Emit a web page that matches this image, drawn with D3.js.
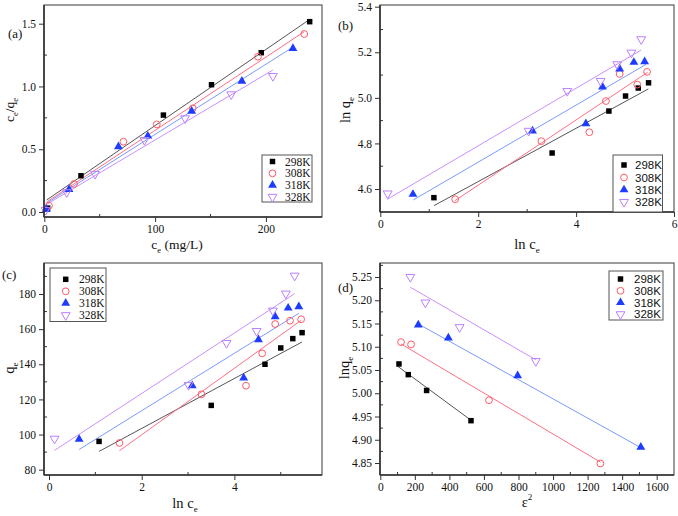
<!DOCTYPE html>
<html><head><meta charset="utf-8">
<script src="https://cdn.jsdelivr.net/npm/d3@7"></script>
<style>
html,body{margin:0;padding:0;background:#fff;}
svg{display:block;}
</style></head>
<body>
<svg id="c" width="678" height="516"></svg>
<script>
// ---------- data ----------
const seriesNames = ["298K", "308K", "318K", "328K"];

// (a) c_e/q_e vs c_e
const aX298 = [3.0, 33.1, 107.5, 150.9, 195.8, 239.5];
const aY298 = [0.031, 0.289, 0.772, 1.014, 1.269, 1.516];
const aX308 = [4.2, 26.8, 71.4, 101.5, 134, 192.8, 234.6];
const aY308 = [0.05, 0.223, 0.56, 0.698, 0.826, 1.237, 1.418];
const aX318 = [1.8, 22.3, 66.9, 93.4, 133, 178.3, 224.4];
const aY318 = [0.021, 0.18, 0.52, 0.605, 0.804, 1.043, 1.303];
const aX328 = [1.2, 20.2, 45.8, 90.4, 127, 168.7, 206.3];
const aY328 = [0.016, 0.157, 0.303, 0.573, 0.746, 0.937, 1.083];
const aFit = [[2.2, 0.096, 240, 1.537], [2.5, 0.082, 234.6, 1.436], [1.8, 0.069, 225, 1.317], [1.2, 0.056, 206.3, 1.131]];

// (b) ln q_e vs ln c_e
const bX298 = [1.095, 3.51, 4.67, 5.01, 5.27, 5.48];
const bY298 = [4.562, 4.758, 4.942, 5.008, 5.043, 5.066];
const bX308 = [1.53, 3.29, 4.27, 4.61, 4.89, 5.25, 5.45];
const bY308 = [4.555, 4.81, 4.849, 4.986, 5.105, 5.058, 5.114];
const bX318 = [0.667, 3.11, 4.20, 4.54, 4.89, 5.18, 5.40];
const bY318 = [4.577, 4.855, 4.887, 5.048, 5.127, 5.156, 5.159];
const bX328 = [0.15, 3.03, 3.82, 4.50, 4.84, 5.13, 5.33];
const bY328 = [4.58, 4.855, 5.03, 5.074, 5.147, 5.198, 5.257];
const bFit = [[1.097, 4.527, 5.475, 5.039], [1.526, 4.549, 5.46, 5.112], [0.674, 4.552, 5.43, 5.147], [0.143, 4.555, 5.33, 5.21]];

// (c) q_e vs ln c_e
const cX298 = [1.08, 3.5, 4.66, 5.0, 5.26, 5.46];
const cY298 = [96.1, 116.6, 140, 149.3, 154.6, 158];
const cX308 = [1.52, 3.29, 4.25, 4.6, 4.88, 5.2, 5.44];
const cY308 = [95.2, 122.9, 127.8, 146.2, 162.9, 164.8, 165.6];
const cX318 = [0.65, 3.09, 4.2, 4.52, 4.88, 5.16, 5.39];
const cY318 = [97.3, 127.8, 132.2, 154, 167.1, 172, 172.8];
const cX328 = [0.12, 3.01, 3.83, 4.48, 4.83, 5.11, 5.3];
const cY328 = [97.6, 128.2, 152.1, 158.9, 170.5, 180.2, 190.4];
const cFit = [[1.08, 90.4, 5.46, 152.7], [1.52, 90.8, 5.44, 165], [0.65, 91.5, 5.39, 169], [0.12, 91, 5.3, 180.2]];

// (d) ln q_e vs epsilon^2
const dX298 = [108, 162, 268, 525];
const dY298 = [5.063, 5.04, 5.006, 4.941];
const dX308 = [120, 178, 629, 1274];
const dY308 = [5.11, 5.105, 4.985, 4.849];
const dX318 = [220, 394, 795, 1508];
const dY318 = [5.147, 5.119, 5.038, 4.884];
const dX328 = [174, 261, 459, 900];
const dY328 = [5.25, 5.195, 5.142, 5.069];
const dFit = [[97, 5.059, 525, 4.942], [120, 5.106, 1274, 4.852], [220, 5.149, 1508, 4.883], [174, 5.228, 900, 5.072]];

// tick values
const aXTicks = [0, 100, 200], aXMinor = [50, 150];
const aYTicks = [0, 0.5, 1.0, 1.5], aYMinor = [0.25, 0.75, 1.25];
const bXTicks = [0, 2, 4, 6], bXMinor = [1, 3, 5];
const bYTicks = [4.6, 4.8, 5.0, 5.2, 5.4], bYMinor = [4.7, 4.9, 5.1, 5.3];
const cXTicks = [0, 2, 4], cXMinor = [1, 3, 5];
const cYTicks = [80, 100, 120, 140, 160, 180], cYMinor = [90, 110, 130, 150, 170, 190];
const dXTicks = [0, 200, 400, 600, 800, 1000, 1200, 1400, 1600], dXMinor = [100, 300, 500, 700, 900, 1100, 1300, 1500];
const dYTicks = [4.85, 4.90, 4.95, 5.00, 5.05, 5.10, 5.15, 5.20, 5.25], dYMinor = [4.875, 4.925, 4.975, 5.025, 5.075, 5.125, 5.175, 5.225, 5.275];

// ---------- styles ----------
const markColor = ["#000000", "#ff5a64", "#1e3cff", "#bb80ff"];
const lineColor = ["#555555", "#ff6e84", "#7a9aff", "#c890ff"];
const serif = "'Liberation Serif','Times New Roman',serif";
const sans = "'Liberation Sans',Arial,sans-serif";

const svg = d3.select("#c");

function marker(g, i, x, y) {
  if (i === 0) {
    g.append("path").attr("d", d3.symbol(d3.symbolSquare, 30)())
      .attr("transform", `translate(${x},${y})`).attr("fill", markColor[0]);
  } else if (i === 1) {
    g.append("circle").attr("cx", x).attr("cy", y).attr("r", 3.4)
      .attr("fill", "none").attr("stroke", markColor[1]).attr("stroke-width", 1);
  } else if (i === 2) {
    g.append("path").attr("d", d3.symbol(d3.symbolTriangle, 34)())
      .attr("transform", `translate(${x},${y})`).attr("fill", markColor[2]);
  } else {
    g.append("path").attr("d", d3.symbol(d3.symbolTriangle, 34)())
      .attr("transform", `translate(${x},${y}) rotate(180)`)
      .attr("fill", "none").attr("stroke", markColor[3]).attr("stroke-width", 1);
  }
}

function panel(p) {
  const g = svg.append("g");
  const x = p.x, y = p.y, f = p.frame;
  // fit lines
  p.fits.forEach((d, i) => {
    g.append("line").attr("x1", x(d[0])).attr("y1", y(d[1])).attr("x2", x(d[2])).attr("y2", y(d[3]))
      .attr("stroke", lineColor[i]).attr("stroke-width", 1);
  });
  // points
  p.xs.forEach((xs, i) => {
    xs.forEach((v, k) => marker(g, i, x(v), y(p.ys[i][k])));
  });
  // frame
  g.append("rect").attr("x", f.l).attr("y", f.t).attr("width", f.r - f.l).attr("height", f.b - f.t)
    .attr("fill", "none").attr("stroke", "#3a3a3a").attr("stroke-width", 1);
  g.append("line").attr("x1", f.l).attr("x2", f.l).attr("y1", f.t).attr("y2", f.b).attr("stroke", "#333").attr("stroke-width", 1.6);
  g.append("line").attr("x1", f.l).attr("x2", f.r).attr("y1", f.b).attr("y2", f.b).attr("stroke", "#333").attr("stroke-width", 1.6);
  // x axis major ticks (outward) via d3 axis
  const xa = g.append("g").attr("transform", `translate(0,${f.b})`)
    .call(d3.axisBottom(x).tickValues(p.xTicks).tickSize(5).tickPadding(3).tickFormat(p.xFmt));
  xa.select(".domain").remove();
  xa.selectAll("line").attr("stroke", "#333");
  xa.selectAll("text").attr("font-family", serif).attr("font-size", 11.5).attr("fill", "#111");
  const ya = g.append("g").attr("transform", `translate(${f.l},0)`)
    .call(d3.axisLeft(y).tickValues(p.yTicks).tickSize(5).tickPadding(3).tickFormat(p.yFmt));
  ya.select(".domain").remove();
  ya.selectAll("line").attr("stroke", "#333");
  ya.selectAll("text").attr("font-family", serif).attr("font-size", 11.5).attr("fill", "#111");
  // minor ticks (inward)
  p.xMinor.filter(v => x(v) > f.l + 1 && x(v) < f.r - 1).forEach(v => {
    g.append("line").attr("x1", x(v)).attr("x2", x(v)).attr("y1", f.b).attr("y2", f.b - 3).attr("stroke", "#333");
  });
  p.yMinor.filter(v => y(v) > f.t + 1 && y(v) < f.b - 1).forEach(v => {
    g.append("line").attr("x1", f.l).attr("x2", f.l + 3).attr("y1", y(v)).attr("y2", y(v)).attr("stroke", "#333");
  });
  // legend
  const L = p.legend;
  g.append("rect").attr("x", L.x0).attr("y", L.y0).attr("width", L.x1 - L.x0).attr("height", L.y1 - L.y0)
    .attr("fill", "#fff").attr("stroke", "#555").attr("stroke-width", 1);
  seriesNames.forEach((s, i) => {
    const ry = L.rows[i];
    marker(g, i, L.mx, ry);
    g.append("text").attr("x", L.tx).attr("y", ry + 4).text(s)
      .attr("font-family", L.font).attr("font-size", 11.5).attr("fill", "#111");
  });
  // panel label
  g.append("text").attr("x", p.label[0]).attr("y", p.label[1]).text(p.label[2])
    .attr("font-family", serif).attr("font-size", 13).attr("fill", "#111");
  // axis titles
  const xt = g.append("text").attr("x", p.xTitle.x).attr("y", p.xTitle.y).attr("text-anchor", "middle")
    .attr("font-family", serif).attr("font-size", p.xTitle.size).attr("fill", "#111");
  p.xTitle.parts.forEach(pt => addPart(xt, pt, p.xTitle.size));
  const yt = g.append("text").attr("transform", `translate(${p.yTitle.x},${p.yTitle.y}) rotate(-90)`)
    .attr("text-anchor", "middle").attr("font-family", serif).attr("font-size", p.yTitle.size).attr("fill", "#111");
  p.yTitle.parts.forEach(pt => addPart(yt, pt, p.yTitle.size));
}

function addPart(t, pt, size) {
  // pt: [text, type] type: "n" normal, "sub", "sup"
  const ts = t.append("tspan").text(pt[0]);
  if (pt[1] === "sub") ts.attr("font-size", size * 0.62).attr("dy", size * 0.3);
  else if (pt[1] === "sup") ts.attr("font-size", size * 0.62).attr("dy", -size * 0.45);
  else if (pt[1] === "nsub") ts.attr("dy", -size * 0.3);
  else if (pt[1] === "nsup") ts.attr("dy", size * 0.45);
}

// (a)
panel({
  frame: {l: 44, r: 322, t: 5, b: 217},
  x: d3.scaleLinear([0, 250], [44.3, 321.3]),
  y: d3.scaleLinear([0, 1.5], [212, 23.7]),
  xTicks: aXTicks, xMinor: aXMinor, yTicks: aYTicks, yMinor: aYMinor,
  xFmt: d3.format("d"), yFmt: d3.format(".1f"),
  xs: [aX298, aX308, aX318, aX328], ys: [aY298, aY308, aY318, aY328], fits: aFit,
  legend: {x0: 262, x1: 312, y0: 155, y1: 202, rows: [161.5, 173.3, 185.1, 196.9], mx: 272.5, tx: 285, font: serif},
  label: [8, 38, "(a)"],
  xTitle: {x: 177, y: 249, size: 13.5, parts: [["c", "n"], ["e", "sub"], [" (mg/L)", "nsub"]]},
  yTitle: {x: 14, y: 110, size: 13.5, parts: [["c", "n"], ["e", "sub"], ["/q", "nsub"], ["e", "sub"]]}
});

// (b)
panel({
  frame: {l: 380, r: 674, t: 5, b: 212},
  x: d3.scaleLinear([0, 6], [380.3, 674]),
  y: d3.scaleLinear([4.6, 5.4], [189, 6.7]),
  xTicks: bXTicks, xMinor: bXMinor, yTicks: bYTicks, yMinor: bYMinor,
  xFmt: d3.format("d"), yFmt: d3.format(".1f"),
  xs: [bX298, bX308, bX318, bX328], ys: [bY298, bY308, bY318, bY328], fits: bFit,
  legend: {x0: 613, x1: 662.5, y0: 155, y1: 212, rows: [165, 177.5, 189.8, 202], mx: 624, tx: 635, font: sans},
  label: [338, 30, "(b)"],
  xTitle: {x: 527, y: 249, size: 14.5, parts: [["ln c", "n"], ["e", "sub"]]},
  yTitle: {x: 350, y: 110, size: 14.5, parts: [["ln q", "n"], ["e", "sub"]]}
});

// (c)
panel({
  frame: {l: 44, r: 322, t: 263, b: 475},
  x: d3.scaleLinear([0, 4], [49, 234.4]),
  y: d3.scaleLinear([80, 180], [469.7, 294]),
  xTicks: cXTicks, xMinor: cXMinor, yTicks: cYTicks, yMinor: cYMinor,
  xFmt: d3.format("d"), yFmt: d3.format("d"),
  xs: [cX298, cX308, cX318, cX328], ys: [cY298, cY308, cY318, cY328], fits: cFit,
  legend: {x0: 50, x1: 106, y0: 268, y1: 321.5, rows: [279.3, 291.3, 303.2, 315.2], mx: 65.7, tx: 79, font: serif},
  label: [2, 279, "(c)"],
  xTitle: {x: 185, y: 508, size: 14.5, parts: [["ln c", "n"], ["e", "sub"]]},
  yTitle: {x: 14, y: 368, size: 14.5, parts: [["q", "n"], ["e", "sub"]]}
});

// (d)
panel({
  frame: {l: 380, r: 674, t: 263, b: 475},
  x: d3.scaleLinear([0, 1600], [380.3, 656.7]),
  y: d3.scaleLinear([4.85, 5.25], [463, 277]),
  xTicks: dXTicks, xMinor: dXMinor, yTicks: dYTicks, yMinor: dYMinor,
  xFmt: d3.format("d"), yFmt: d3.format(".2f"),
  xs: [dX298, dX308, dX318, dX328], ys: [dY298, dY308, dY318, dY328], fits: dFit,
  legend: {x0: 609, x1: 663, y0: 271, y1: 320, rows: [279, 290.8, 302.5, 314.3], mx: 620.5, tx: 634, font: sans},
  label: [338, 292, "(d)"],
  xTitle: {x: 527, y: 507, size: 14.5, parts: [["ε", "n"], ["2", "sup"]]},
  yTitle: {x: 349, y: 368, size: 14.5, parts: [["lnq", "n"], ["e", "sub"]]}
});
</script>
</body></html>
